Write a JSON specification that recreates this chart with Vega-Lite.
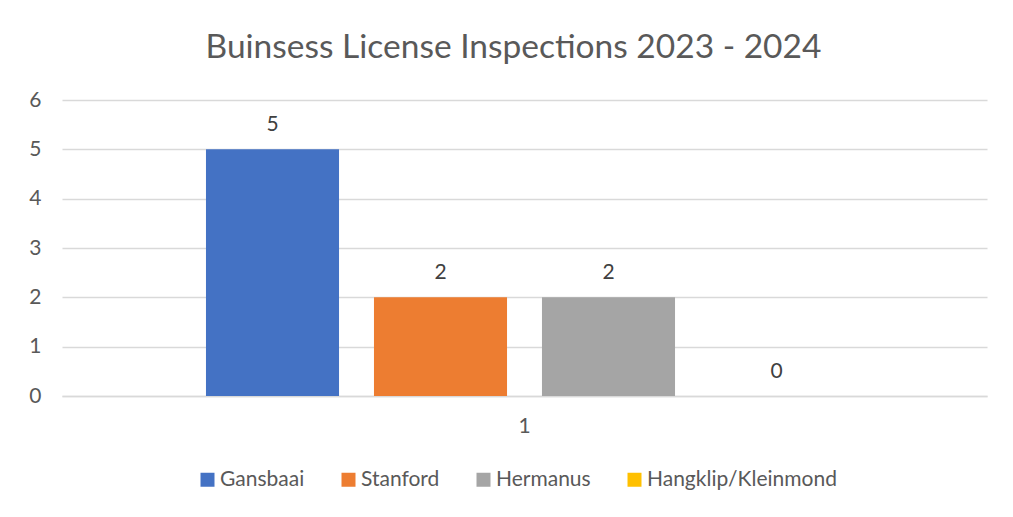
{
  "$schema": "https://vega.github.io/schema/vega-lite/v6.json",
  "width": 925,
  "height": 296,
  "autosize": "none",
  "padding": {"left": 62, "top": 100, "right": 26, "bottom": 121},
  "background": "white",
  "title": {
    "text": "Buinsess License Inspections 2023 - 2024",
    "font": "Lato",
    "fontSize": 33.5,
    "fontWeight": "normal",
    "color": "#595959",
    "anchor": "middle",
    "offset": 24,
    "dx": -11
  },
  "data": {
    "values": [
      {"category": "1", "series": "Gansbaai", "value": 5},
      {"category": "1", "series": "Stanford", "value": 2},
      {"category": "1", "series": "Hermanus", "value": 2},
      {"category": "1", "series": "Hangklip/Kleinmond", "value": 0}
    ]
  },
  "encoding": {
    "x": {
      "field": "category",
      "type": "nominal",
      "scale": {"paddingInner": 0, "paddingOuter": 0.226},
      "axis": {
        "title": null,
        "labelAngle": 0,
        "labelFont": "Lato",
        "labelFontSize": 21,
        "labelColor": "#595959",
        "ticks": false,
        "domain": true,
        "domainColor": "#d9d9d9",
        "domainWidth": 1.5,
        "labelPadding": 19
      }
    },
    "xOffset": {
      "field": "series",
      "type": "nominal",
      "sort": ["Gansbaai", "Stanford", "Hermanus", "Hangklip/Kleinmond"],
      "scale": {"paddingInner": 0.208, "paddingOuter": 0}
    },
    "y": {
      "field": "value",
      "type": "quantitative",
      "scale": {"domain": [0, 6]},
      "axis": {
        "title": null,
        "values": [0, 1, 2, 3, 4, 5, 6],
        "labelOverlap": false,
        "labelFont": "Lato",
        "labelFontSize": 21,
        "labelColor": "#595959",
        "ticks": false,
        "domain": false,
        "gridColor": "#d9d9d9",
        "gridWidth": 1.5,
        "labelPadding": 21
      }
    }
  },
  "layer": [
    {
      "mark": {"type": "bar"},
      "encoding": {
        "color": {
          "field": "series",
          "type": "nominal",
          "sort": ["Gansbaai", "Stanford", "Hermanus", "Hangklip/Kleinmond"],
          "scale": {
            "domain": ["Gansbaai", "Stanford", "Hermanus", "Hangklip/Kleinmond"],
            "range": ["#4472c4", "#ed7d31", "#a5a5a5", "#ffc000"]
          },
          "legend": {
            "title": null,
            "orient": "none",
            "direction": "horizontal",
            "legendX": 135,
            "legendY": 369,
            "symbolType": "square",
            "symbolSize": 196,
            "symbolStrokeWidth": 0,
            "labelFont": "Lato",
            "labelFontSize": 21,
            "labelColor": "#595959",
            "labelOffset": 2,
            "columnPadding": 33,
            "labelLimit": 300
          }
        }
      }
    },
    {
      "mark": {
        "type": "text",
        "baseline": "alphabetic",
        "dy": -18,
        "font": "Lato",
        "fontSize": 21,
        "color": "#404040"
      },
      "encoding": {
        "text": {"field": "value", "type": "quantitative"}
      }
    }
  ],
  "config": {
    "view": {"stroke": null}
  }
}
